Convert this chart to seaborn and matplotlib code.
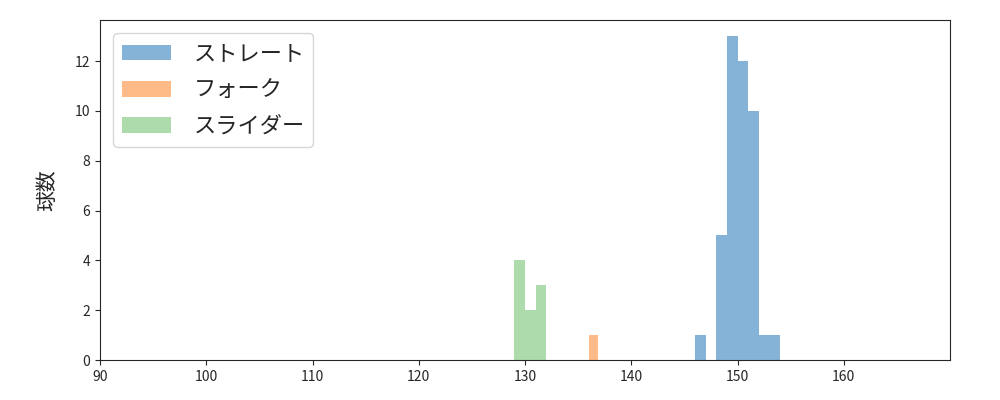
import numpy as np
import pandas as pd
import seaborn as sns
import matplotlib
matplotlib.use("Agg")
import matplotlib.pyplot as plt

# pitch speed values (km/h) per pitch type
pitch_types = ["ストレート", "フォーク", "スライダー"]
straight = [146] * 1 + [148] * 5 + [149] * 13 + [150] * 12 + [151] * 10 + [152] * 1 + [153] * 1
fork = [136.4] * 1
slider = [129] * 4 + [130] * 2 + [131] * 3
series = [straight, fork, slider]
series_bins = [np.arange(146, 155, 1), [136, 136.9], np.arange(129, 133, 1)]
colors = ["#85b3d7", "#febb88", "#addbab"]

sns.set_style("ticks")
plt.rcParams["font.family"] = ["Noto Sans CJK JP", "DejaVu Sans"]

fig, ax = plt.subplots(figsize=(10, 4), dpi=100)
fig.subplots_adjust(left=0.1, right=0.95, top=0.95, bottom=0.1)

for name, vals, bins, c in zip(pitch_types, series, series_bins, colors):
    df = pd.DataFrame({"speed": vals})
    sns.histplot(data=df, x="speed", bins=bins, color=c, alpha=1,
                 linewidth=0, ax=ax, label=name)

ax.set_xlim(90, 170)
ax.set_xticks(np.arange(90, 161, 10))
ax.set_xlabel("")
ax.set_ylabel("球数", fontsize=15, labelpad=12)
ax.legend(fontsize=16, loc="upper left", borderaxespad=0.6,
          labelspacing=0.6, handlelength=2.2, handletextpad=1.0)

plt.savefig("out.png")
plt.close()
